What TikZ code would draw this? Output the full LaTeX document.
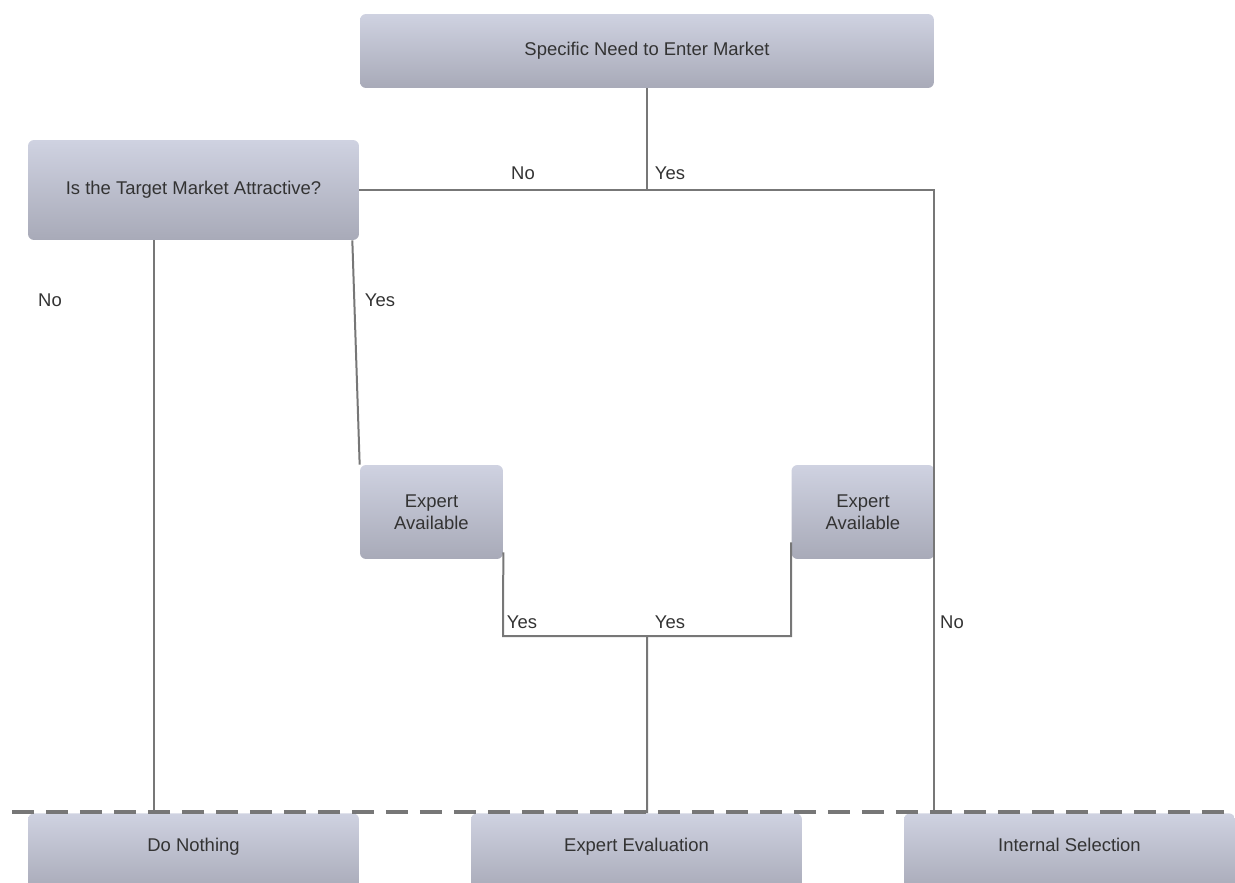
\documentclass[tikz,border=0pt]{standalone}
\usepackage{fontspec}
\setmainfont{Liberation Sans}

\definecolor{boxtop}{HTML}{CFD2E1}
\definecolor{boxbot}{HTML}{A8AAB8}
\definecolor{wiregray}{HTML}{777777}
\definecolor{ink}{HTML}{333333}

\tikzset{
    box/.style={rounded corners=0.12cm, top color=boxtop, bottom color=boxbot, draw=none, text=ink, align=center, inner sep=0pt},
    outbox/.style={box, anchor=north, minimum width=6.62cm, text height=0.76cm, text depth=0.8cm},
    wire/.style={draw=wiregray, line width=0.04cm},
    ans/.style={text=ink},
    cutline/.style={draw=wiregray, line width=0.08cm, dash pattern=on 0.44cm off 0.24cm},
}

\begin{document}
\begin{tikzpicture}[x=0.02cm, y=-0.02cm, font=\fontsize{10.5}{12.6}\selectfont]
    \useasboundingbox (0,0) rectangle (1235,883);
    \node[box, minimum width=11.48cm, minimum height=1.48cm] (need) at (647,51) {Specific Need to Enter Market};
    \node[box, minimum width=6.62cm, minimum height=2.0cm] (target) at (193.5,190) {Is the Target Market Attractive?};
    \node[box, minimum width=2.86cm, minimum height=1.88cm] (expl) at (431.5,512) {Expert\\Available};
    \node[box, minimum width=2.86cm, minimum height=1.88cm] (expr) at (863,512) {Expert\\Available};
    \node[outbox] (nothing) at (193.5,813) {Do Nothing};
    \node[outbox] (eval) at (636.5,813) {Expert Evaluation};
    \node[outbox] (internal) at (1069.5,813) {Internal Selection};
    \coordinate (jtop) at (647,190);
    \coordinate (jright) at (934,190);
    \coordinate (jl) at (503,636);
    \coordinate (jr) at (791,636);
    \coordinate (jmid) at (647,636);
    \coordinate (dl) at (12,812);
    \coordinate (dr) at (1235,812);
    \draw[wire] (need) -- (jtop);
    \draw[wire] (target.east) -- (jright) -- (jright |- internal.north);
    \draw[wire] ([xshift=-0.79cm]target.south) -- ([xshift=-0.79cm]nothing.north);
    \draw[wire] ([xshift=-0.14cm]target.south east) -- (expl.north west);
    \draw[wire] ([yshift=0.14cm]expl.south east) -- (jl) -- (jr) -- ([yshift=0.34cm]expr.south west);
    \draw[wire] (jmid) -- ([xshift=0.21cm]eval.north);
    \node[ans] (no1) at (523,173) {No};
    \node[ans] (yes1) at (670,173) {Yes};
    \node[ans] (no2) at (50,300) {No};
    \node[ans] (yes2) at (380,300) {Yes};
    \node[ans] (yes3) at (522,622) {Yes};
    \node[ans] (yes4) at (670,622) {Yes};
    \node[ans] (no3) at (952,622) {No};
    \draw[cutline] (dl) -- (dr);
\end{tikzpicture}
\end{document}
